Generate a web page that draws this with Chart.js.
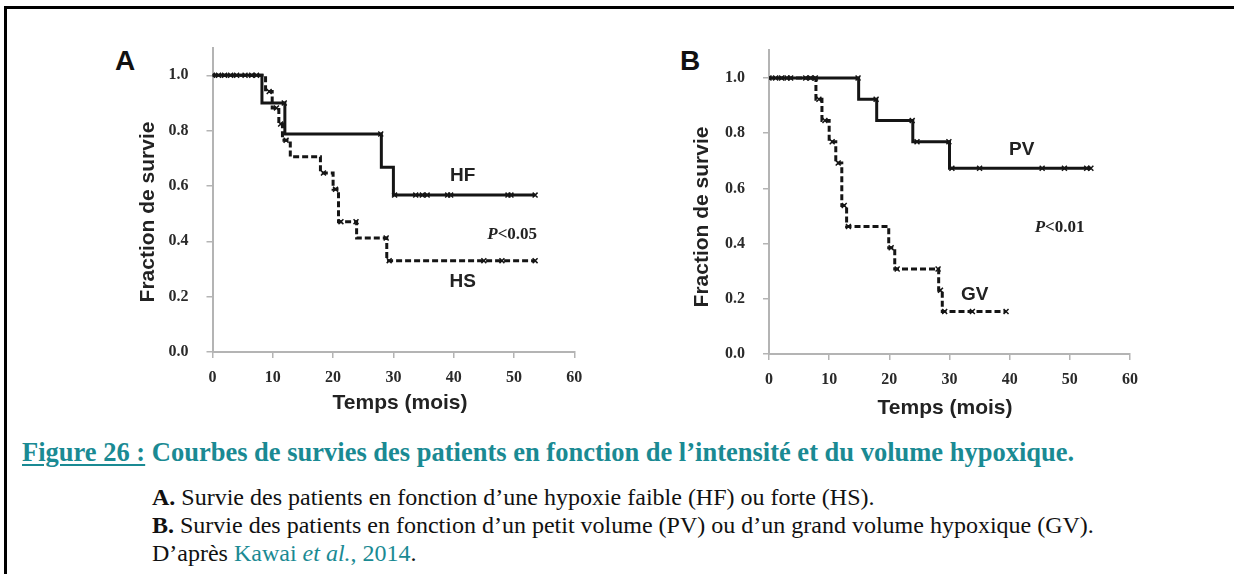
<!DOCTYPE html>
<html>
<head>
<meta charset="utf-8">
<script src="https://cdn.jsdelivr.net/npm/chart.js@4.4.0/dist/chart.umd.min.js"></script>
<style>
  body { margin: 0; width: 1234px; height: 574px; background: #fff; position: relative; overflow: hidden; }
  .frame { position: absolute; left: 4px; top: 6px; width: 1260px; height: 600px; border-top: 3px solid #000; border-left: 3px solid #000; }
  canvas { position: absolute; }
  #chartA { left: 110px; top: 20px; }
  #chartB { left: 666px; top: 20px; }
  .letter { position: absolute; font: bold 28px "Liberation Sans", sans-serif; color: #111; }
  .title { position: absolute; left: 22px; top: 437px; font: bold 26.5px "Liberation Serif", serif; color: #1a8a93; white-space: nowrap; }
  .title u { text-decoration-thickness: 2px; text-underline-offset: 3px; }
  .body { position: absolute; left: 152px; top: 483px; font: 24px/28px "Liberation Serif", serif; color: #111; white-space: nowrap; }
  .teal { color: #1a8a93; }
</style>
</head>
<body>
<div class="frame"></div>
<div class="letter" style="left:115px;top:45px">A</div>
<div class="letter" style="left:680px;top:45px">B</div>
<canvas id="chartA" width="490" height="410"></canvas>
<canvas id="chartB" width="490" height="410"></canvas>
<div class="title"><u>Figure 26 :</u> Courbes de survies des patients en fonction de l’intensité et du volume hypoxique.</div>
<div class="body">
  <b>A.</b> Survie des patients en fonction d’une hypoxie faible (HF) ou forte (HS).<br>
  <b>B.</b> Survie des patients en fonction d’un petit volume (PV) ou d’un grand volume hypoxique (GV).<br>
  D’après <span class="teal">Kawai <i>et al.</i>, 2014</span>.
</div>
<script>
const xTicks = [0, 10, 20, 30, 40, 50, 60];
const yTicks = [0, 0.2, 0.4, 0.6, 0.8, 1.0];

// A : hypoxie faible (HF) / forte (HS)
const hfMonths = [0, 8.2, 12, 28, 30, 53.5];
const hfSurv = [1, 0.9, 0.788, 0.668, 0.567, 0.567];
const hfCensor = [0, 1, 2, 3, 4, 5.4, 6.5, 7.3, 11.9, 27.9, 30.2, 33.7, 34.8, 35.6, 39, 39.5, 49, 49.5, 53.5];
const hsMonths = [0, 8.8, 9.9, 11, 11.6, 12.9, 17.9, 20, 20.9, 23.9, 28.9, 53.5];
const hsSurv = [1, 0.941, 0.882, 0.824, 0.765, 0.706, 0.647, 0.588, 0.471, 0.412, 0.33, 0.33];
const hsCensor = [9.4, 10.6, 11.3, 12.2, 18.4, 20.4, 21.3, 23.8, 28.8, 29.3, 45, 48, 53.5];

// B : petit volume (PV) / grand volume (GV)
const pvMonths = [0, 14.9, 17.9, 23.9, 30, 53.5];
const pvSurv = [1, 0.923, 0.846, 0.769, 0.673, 0.673];
const pvCensor = [0, 1.1, 2.1, 3, 3.6, 6.1, 6.9, 14.8, 17.8, 23.8, 24.6, 29.9, 30.4, 35, 45.4, 49.1, 52.8, 53.5];
const gvMonths = [0, 7.8, 8.8, 10, 11.1, 12.1, 12.9, 19.9, 20.9, 28.2, 28.8, 39.4];
const gvSurv = [1, 0.923, 0.846, 0.769, 0.692, 0.538, 0.462, 0.385, 0.308, 0.231, 0.154, 0.154];
const gvCensor = [7.7, 8.3, 9.3, 10.5, 11.5, 12.5, 13.2, 20.3, 21.3, 28.1, 28.5, 29.2, 33.8, 39.4];

const ink = "#151515";
const axisGray = "#b4b4b4";

// survival value of a step curve at month t
function survAt(months, surv, t) {
  let s = surv[0];
  for (let i = 0; i < months.length; i++) if (months[i] <= t) s = surv[i];
  return s;
}

const curve = (months, surv, dashed) => ({
  data: months.map((m, i) => ({ x: m, y: surv[i] })),
  stepped: true,
  borderColor: ink,
  borderWidth: 3,
  borderDash: dashed ? [6, 3] : [],
  pointRadius: 0,
  fill: false,
});

const marks = (censor, months, surv) => ({
  data: censor.map(t => ({ x: t, y: survAt(months, surv, t) })),
  showLine: false,
  pointStyle: "crossRot",
  pointRadius: 3.5,
  pointBorderWidth: 1.5,
  pointBorderColor: ink,
  pointBackgroundColor: ink,
});

// curve labels, p-values and axis titles
const textPlugin = {
  id: "kmText",
  afterDatasetsDraw(chart, args, opts) {
    const { ctx, scales } = chart;
    ctx.save();
    ctx.fillStyle = "#222";
    ctx.textBaseline = "middle";
    opts.items.forEach(it => {
      const px = scales.x.getPixelForValue(it.x);
      const py = scales.y.getPixelForValue(it.y);
      if (it.p) {
        ctx.font = "italic bold 17px 'Liberation Serif'";
        const w1 = ctx.measureText("P").width;
        ctx.font = "bold 17px 'Liberation Serif'";
        const w2 = ctx.measureText(it.text).width;
        let left = px - (w1 + w2) / 2;
        ctx.textAlign = "left";
        ctx.font = "italic bold 17px 'Liberation Serif'";
        ctx.fillText("P", left, py);
        ctx.font = "bold 17px 'Liberation Serif'";
        ctx.fillText(it.text, left + w1, py);
      } else {
        ctx.textAlign = "center";
        ctx.font = "bold 19px 'Liberation Sans'";
        ctx.fillText(it.text, px, py);
      }
    });
    ctx.font = "bold 21px 'Liberation Sans'";
    ctx.textAlign = "center";
    ctx.fillText("Temps (mois)", opts.xTitle[0], opts.xTitle[1]);
    ctx.translate(opts.yTitle[0], opts.yTitle[1]);
    ctx.rotate(-Math.PI / 2);
    ctx.fillText("Fraction de survie", 0, 0);
    ctx.restore();
  },
};

function kmChart(id, sets, p) {
  const ctx = document.getElementById(id).getContext("2d");
  return new Chart(ctx, {
    type: "line",
    data: { datasets: sets },
    plugins: [textPlugin],
    options: {
      responsive: false,
      animation: false,
      layout: { padding: { top: p.top, right: p.right, bottom: 0, left: 0 } },
      plugins: {
        legend: { display: false },
        tooltip: { enabled: false },
        kmText: { items: p.items, xTitle: p.xTitle, yTitle: p.yTitle },
      },
      scales: {
        x: {
          type: "linear",
          min: 0,
          max: 60,
          afterBuildTicks: s => { s.ticks = xTicks.map(v => ({ value: v })); },
          afterFit: s => { s.height = p.xHeight; },
          grid: { display: true, drawOnChartArea: false, drawTicks: true, tickLength: 6, color: axisGray, lineWidth: 1.5 },
          border: { display: true, color: axisGray, width: 2 },
          ticks: { padding: 10, color: "#2a2a2a", font: { family: "Liberation Serif", size: 16, weight: "bold" } },
        },
        y: {
          type: "linear",
          min: 0,
          max: 1.1,
          afterBuildTicks: s => { s.ticks = yTicks.map(v => ({ value: v })); },
          afterFit: s => { s.width = p.yWidth; },
          grid: { display: true, drawOnChartArea: false, drawTicks: true, tickLength: 6, color: axisGray, lineWidth: 1.5 },
          border: { display: true, color: axisGray, width: 2 },
          ticks: { padding: 18, color: "#2a2a2a", font: { family: "Liberation Serif", size: 16, weight: "bold" }, callback: v => v.toFixed(1) },
        },
      },
    },
  });
}

kmChart("chartA", [
  curve(hfMonths, hfSurv, false),
  curve(hsMonths, hsSurv, true),
  marks(hfCensor, hfMonths, hfSurv),
  marks(hsCensor, hsMonths, hsSurv),
], {
  top: 26.2, right: 25.7, yWidth: 102.5, xHeight: 78,
  xTitle: [290, 383], yTitle: [38, 192],
  items: [
    { text: "HF", x: 41.5, y: 0.637 },
    { text: "HS", x: 41.5, y: 0.255 },
    { text: "<0.05", x: 49.7, y: 0.424, p: true },
  ],
});

kmChart("chartB", [
  curve(pvMonths, pvSurv, false),
  curve(gvMonths, gvSurv, true),
  marks(pvCensor, pvMonths, pvSurv),
  marks(gvCensor, gvMonths, gvSurv),
], {
  top: 30.4, right: 26, yWidth: 103, xHeight: 76,
  xTitle: [279, 388], yTitle: [36, 197],
  items: [
    { text: "PV", x: 42.0, y: 0.739 },
    { text: "GV", x: 34.2, y: 0.214 },
    { text: "<0.01", x: 48.3, y: 0.457, p: true },
  ],
});
</script>
</body>
</html>
